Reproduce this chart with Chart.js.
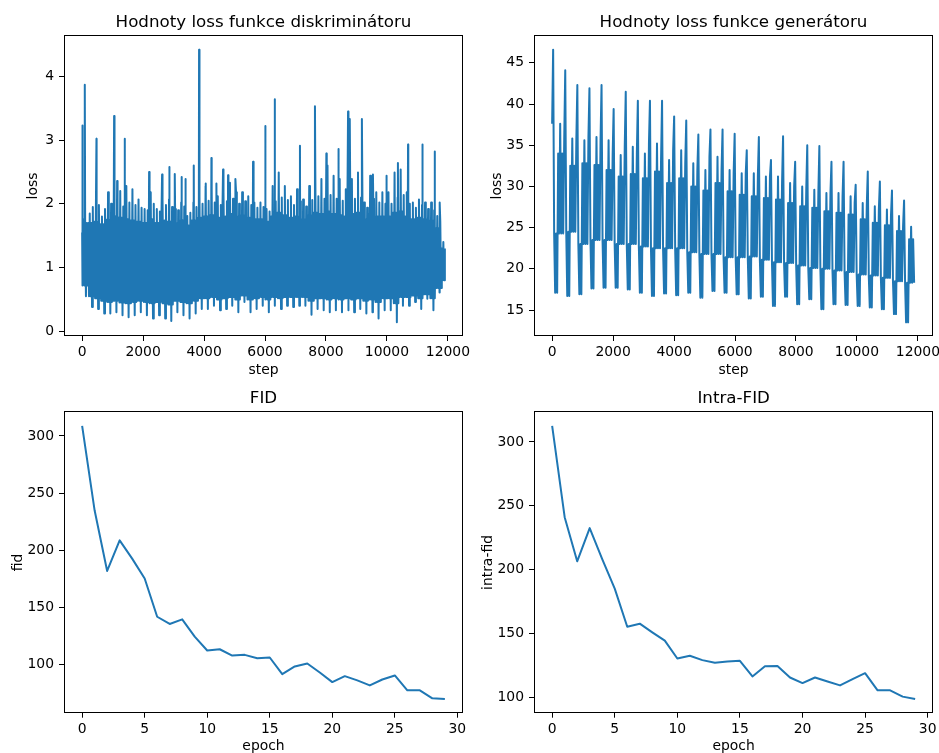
<!DOCTYPE html>
<html lang="cs">
<head>
<meta charset="UTF-8">
<title>Loss a FID</title>
<style>
  html, body { margin: 0; padding: 0; background: #fff; overflow: hidden; }
  body { width: 939px; height: 753px; position: relative; }
  canvas { position: absolute; }
</style>
<script src="https://cdn.jsdelivr.net/npm/chart.js@4"></script>
</head>
<body>
<canvas id="disc" width="480" height="380" style="left:0;top:0"></canvas>
<canvas id="gen" width="469" height="380" style="left:470px;top:0"></canvas>
<canvas id="fid" width="480" height="376" style="left:0;top:380px"></canvas>
<canvas id="ifid" width="469" height="376" style="left:470px;top:380px"></canvas>
<script>
// ---- values ----
const LAST_STEP = 11900;
const stepTicks = [0, 2000, 4000, 6000, 8000, 10000, 12000];
const epochTicks = [0, 5, 10, 15, 20, 25, 30];
const discTicks = [0, 1, 2, 3, 4];
const genTicks = [15, 20, 25, 30, 35, 40, 45];
const fidTicks = [100, 150, 200, 250, 300];

// discriminator loss, per 200-step bin: stroke tops, second strokes, dense top, dense bottom, stroke bottoms
const discPeak = [1.75,1.85,1.86,1.80,2.18,2.30,2.20,2.28,2.23,2.07, 1.92,2.18,1.92,2.07,2.07,1.92,2.02,1.81,2.02,2.12,
                  2.28,2.23,2.12,2.18,2.33,2.18,2.18,2.12,2.02,2.02, 1.92,2.28,2.49,2.28,2.12,2.23,2.07,2.28,2.49,2.39,
                  2.60,2.44,2.39,2.23,2.39,2.49,2.02,2.44,2.18,2.18, 2.18,2.49,2.54,2.18,2.02,2.07,2.02,2.02,1.81,1.40];
const discPeak2 = [1.70,1.95,1.98,1.92,2.00,2.05,1.96,2.02,1.98,1.94, 1.90,2.00,1.88,1.98,1.95,1.90,1.96,1.86,1.95,2.00,
                   2.05,2.02,1.98,2.04,2.08,2.00,2.04,1.98,1.94,1.95, 1.88,2.04,2.10,2.06,1.98,2.04,1.96,2.06,2.12,2.08,
                   2.14,2.08,2.05,2.00,2.08,2.10,1.94,2.08,2.02,2.00, 2.00,2.10,2.14,2.00,1.94,1.98,1.92,1.90,1.72,1.38];
const discTop = [1.55,1.70,1.72,1.68,1.75,1.80,1.78,1.76,1.74,1.72, 1.70,1.76,1.70,1.74,1.72,1.70,1.74,1.66,1.74,1.78,
                 1.80,1.82,1.78,1.80,1.84,1.80,1.82,1.78,1.76,1.76, 1.72,1.80,1.86,1.82,1.78,1.80,1.76,1.82,1.86,1.84,
                 1.88,1.84,1.82,1.80,1.84,1.86,1.76,1.84,1.80,1.80, 1.80,1.86,1.88,1.80,1.76,1.78,1.76,1.74,1.62,1.30];
const discBottom = [0.72,0.55,0.52,0.48,0.46,0.48,0.45,0.44,0.46,0.48, 0.46,0.44,0.46,0.44,0.42,0.48,0.46,0.44,0.48,0.52,
                    0.52,0.54,0.50,0.52,0.54,0.50,0.56,0.50,0.52,0.54, 0.50,0.54,0.52,0.54,0.54,0.54,0.54,0.48,0.52,0.52,
                    0.50,0.52,0.50,0.52,0.50,0.52,0.48,0.50,0.46,0.52, 0.52,0.44,0.54,0.54,0.56,0.52,0.58,0.52,0.68,0.80];
const discFloor = [0.55,0.38,0.35,0.28,0.28,0.30,0.25,0.22,0.25,0.30, 0.25,0.20,0.25,0.20,0.16,0.30,0.25,0.20,0.28,0.35,
                   0.35,0.40,0.33,0.35,0.40,0.30,0.46,0.30,0.35,0.40, 0.30,0.40,0.35,0.40,0.38,0.40,0.40,0.26,0.35,0.33,
                   0.30,0.33,0.30,0.33,0.30,0.35,0.28,0.30,0.20,0.33, 0.33,0.14,0.40,0.40,0.46,0.35,0.51,0.33,0.61,0.72];
const discSpikeSteps = [0, 87, 470, 1049, 1148, 1399, 1650, 2197, 2623, 2853, 3039, 3257, 3388, 3662, 3836, 4055, 4241, 4405, 4623,
                        4787, 5028, 5607, 6000, 6319, 7146, 7638, 8012, 8400, 8724, 8780, 9181, 9540, 9975, 10360, 10692, 11159, 11565, 11730];
const discSpikeValues = [3.23, 3.87, 3.02, 3.38, 2.36, 3.02, 2.23, 2.50, 2.46, 2.58, 2.47, 2.42, 2.39, 2.60, 4.42, 2.32, 2.72, 2.32, 2.54,
                         2.45, 2.39, 2.66, 3.22, 3.64, 2.91, 3.53, 2.79, 2.86, 3.45, 3.33, 3.33, 2.46, 2.44, 2.64, 2.93, 2.93, 2.82, 2.02];

// generator loss, per epoch (about 397 steps): peak, dip, dense top, second level, dense bottom
const EPOCH_STEPS = 397;
const genPeak = [46.6,44.1,42.3,41.9,42.3,39.4,41.5,40.4,40.4,40.4,38.5,38.0,36.3,36.9,36.9,
                 36.4,34.4,36.0,33.2,36.1,33.0,35.0,34.9,33.0,33.0,30.2,31.8,30.6,29.5,28.3];
const genDip = [17.1,16.7,16.9,17.6,17.7,17.7,17.5,17.1,16.7,17.0,16.8,17.1,16.5,17.3,17.1,
                16.9,16.4,16.6,15.5,16.6,15.7,16.3,15.1,15.7,15.6,15.5,15.3,15.1,14.5,13.5];
const genTop = [37.6,35.8,35.6,36.0,35.6,33.8,34.8,34.0,35.2,33.2,34.4,32.8,32.0,33.6,32.0,
                31.6,31.6,31.2,31.2,30.4,30.0,29.6,29.2,29.2,28.8,28.0,27.6,27.2,26.4,25.1];
const genMid = [34.0,32.5,32.8,32.6,32.0,31.2,31.5,31.0,31.8,30.4,31.0,30.0,29.5,30.4,29.4,
                29.0,28.8,28.6,28.4,28.0,27.6,27.4,27.0,26.8,26.6,26.0,25.6,25.3,24.6,23.6];
const genBottom = [24.3,24.5,23.0,23.5,23.5,23.0,23.0,22.7,22.5,22.5,22.5,22.0,21.8,21.8,21.4,
                   21.4,21.5,21.1,20.8,20.7,20.4,20.1,20.0,19.8,19.6,19.3,19.2,18.9,18.5,18.3];

// FID per epoch
const epochs = [0,1,2,3,4,5,6,7,8,9,10,11,12,13,14,15,16,17,18,19,20,21,22,23,24,25,26,27,28,29];
const fid = [308.7,234.8,182.0,208.7,192.8,175.4,142.0,135.7,139.7,124.6,112.5,113.6,108.1,108.7,105.8,
             106.4,91.9,98.6,101.2,93.3,84.9,90.1,86.4,82.0,87.2,90.7,77.7,77.7,70.7,70.1];
const intraFid = [312.5,241.0,206.4,232.4,208.0,185.0,155.1,157.5,150.7,144.2,130.2,132.3,128.9,126.8,127.8,
                  128.4,116.1,124.1,124.3,115.3,110.9,115.3,112.2,109.1,114.0,118.7,105.2,105.2,100.3,98.4];

// ---- series ----
const discRole = [discTop, discBottom, discPeak, discBottom, discTop, discFloor, discPeak2, discBottom];
const discPts = [];
discTop.forEach((_, b) => discRole.forEach((arr, k) => {
  const s = b * 200 + k * 25;
  if (s <= LAST_STEP) discPts.push({x: s, y: arr[b]});
}));
discSpikeSteps.forEach((s, i) => discPts.push({x: s, y: discSpikeValues[i]}));
discPts.sort((a, b) => a.x - b.x);

const genRole = [genTop, genPeak, genBottom, genDip, genBottom, genDip, genMid, genBottom, genTop, genBottom, genMid, genBottom];
const genPts = [];
genPeak.forEach((_, e) => genRole.forEach((arr, k) => {
  genPts.push({x: e * EPOCH_STEPS + k * 33, y: arr[e]});
}));

const fidPts = epochs.map((e, i) => ({x: e, y: fid[i]}));
const intraPts = epochs.map((e, i) => ({x: e, y: intraFid[i]}));

// matplotlib-style 5% margins
function padRange(vals) {
  const lo = Math.min(...vals), hi = Math.max(...vals), m = (hi - lo) * 0.05;
  return {min: lo - m, max: hi + m};
}

const BLUE = '#1f77b4';
Chart.defaults.font.family = 'DejaVu Sans';
Chart.defaults.color = '#000';

const frame = {
  id: 'frame',
  afterDatasetsDraw(chart) {
    const a = chart.chartArea, ctx = chart.ctx;
    const x0 = Math.round(a.left) + 0.5, y0 = Math.round(a.top) - 0.5;
    const x1 = Math.round(a.right) - 0.5, y1 = Math.round(a.bottom) - 0.5;
    ctx.save();
    ctx.strokeStyle = '#000';
    ctx.lineWidth = 1;
    ctx.strokeRect(x0, y0, x1 - x0, y1 - y0);
    ctx.restore();
  }
};

function makeChart(id, g, pts, xr, xticks, yr, yticks, texts) {
  const tickFont = {size: 13.9};
  return new Chart(document.getElementById(id), {
    type: 'line',
    data: {
      datasets: [{
        data: pts, xAxisID: 'x', yAxisID: 'y',
        borderColor: BLUE, borderWidth: 2, pointRadius: 0, tension: 0,
        borderJoinStyle: 'round', fill: false
      }]
    },
    options: {
      responsive: false, animation: false, events: [], parsing: false, normalized: true,
      layout: {padding: {left: g.padL, right: g.padR, top: 0, bottom: 0}},
      plugins: {legend: {display: false}, tooltip: {enabled: false}},
      scales: {
        t: {
          axis: 'x', position: 'top', type: 'linear',
          ticks: {display: false}, grid: {display: false}, border: {display: false},
          title: {display: true, text: texts.title, color: '#000', font: {size: 16.7}, padding: {top: g.titlePad, bottom: 0}},
          afterFit(s) { s.height = g.top; }
        },
        x: {
          type: 'linear', position: 'bottom', min: xr.min, max: xr.max,
          afterBuildTicks(s) { s.ticks = xticks.map(v => ({value: v})); },
          ticks: {color: '#000', font: tickFont, padding: 3, maxRotation: 0, autoSkip: false, callback: v => String(v)},
          grid: {display: true, drawOnChartArea: false, drawTicks: true, tickLength: 5, color: '#000', lineWidth: 1},
          border: {display: false},
          title: {display: true, text: texts.x, color: '#000', font: tickFont, padding: {top: 0, bottom: g.xTitlePad}},
          afterFit(s) { s.height = g.xH; s.paddingLeft = 0; s.paddingRight = 0; }
        },
        y: {
          type: 'linear', position: 'left', min: yr.min, max: yr.max,
          afterBuildTicks(s) { s.ticks = yticks.map(v => ({value: v})); },
          ticks: {color: '#000', font: tickFont, padding: 5, autoSkip: false, callback: v => String(v)},
          grid: {display: true, drawOnChartArea: false, drawTicks: true, tickLength: 5, color: '#000', lineWidth: 1},
          border: {display: false},
          title: {display: true, text: texts.y, color: '#000', font: tickFont, padding: {top: 0, bottom: 0}},
          afterFit(s) { s.width = g.yW; s.paddingTop = 0; s.paddingBottom = 0; }
        }
      }
    },
    plugins: [frame]
  });
}

const stepRange = padRange([0, LAST_STEP]);
const epochRange = padRange(epochs);

makeChart('disc', {padL: 24.8, padR: 17, top: 36, titlePad: 12.2, yW: 39.2, xH: 44, xTitlePad: 1},
  discPts, stepRange, stepTicks, padRange(discPts.map(p => p.y)), discTicks,
  {title: 'Hodnoty loss funkce diskriminátoru', x: 'step', y: 'loss'});

makeChart('gen', {padL: 18.6, padR: 6, top: 36, titlePad: 12.2, yW: 45.4, xH: 44, xTitlePad: 1},
  genPts, stepRange, stepTicks, padRange(genPts.map(p => p.y)), genTicks,
  {title: 'Hodnoty loss funkce generátoru', x: 'step', y: 'loss'});

makeChart('fid', {padL: 9.6, padR: 17, top: 32.3, titlePad: 8.2, yW: 54.4, xH: 43.3, xTitlePad: 0.8},
  fidPts, epochRange, epochTicks, padRange(fid), fidTicks,
  {title: 'FID', x: 'epoch', y: 'fid'});

makeChart('ifid', {padL: 9.6, padR: 5.7, top: 32.3, titlePad: 8.2, yW: 54.4, xH: 43.3, xTitlePad: 0.8},
  intraPts, epochRange, epochTicks, padRange(intraFid), fidTicks,
  {title: 'Intra-FID', x: 'epoch', y: 'intra-fid'});
</script>
</body>
</html>
